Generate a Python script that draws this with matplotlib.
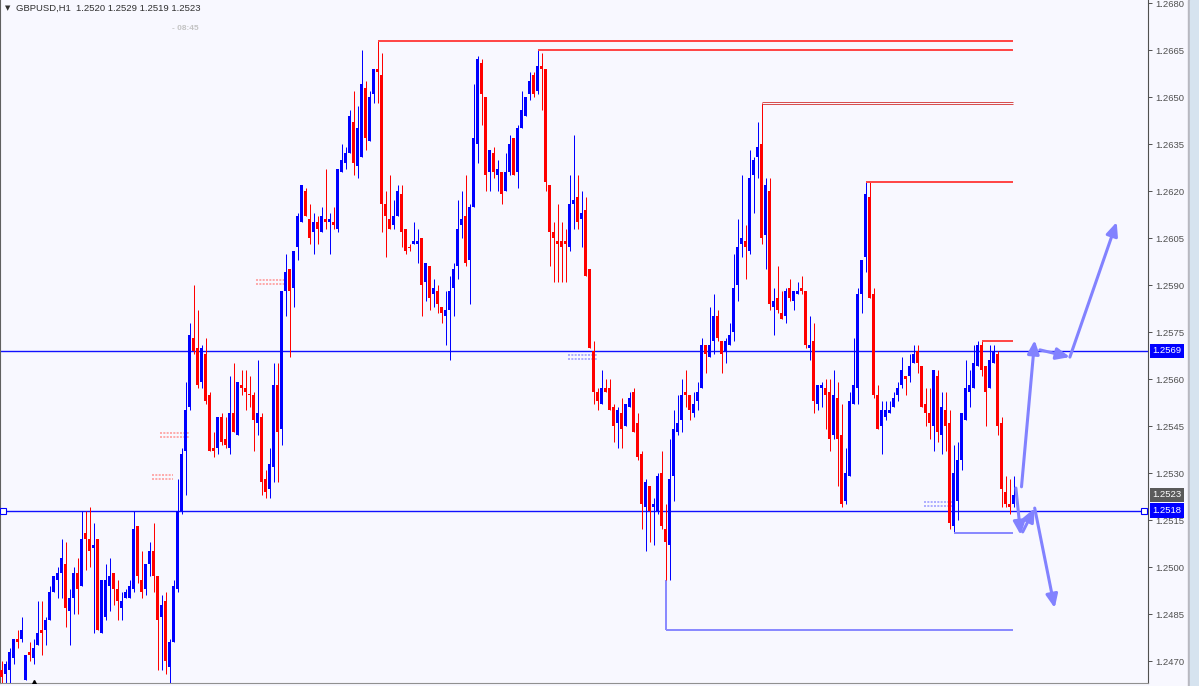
import numpy as np
import matplotlib
matplotlib.use('Agg')
import matplotlib.pyplot as plt
from matplotlib.ticker import FormatStrFormatter
from matplotlib.transforms import blended_transform_factory
from matplotlib.patches import Rectangle

plt.rcParams['font.family'] = ['Liberation Sans', 'DejaVu Sans']

# GBPUSD H1 candles, oldest first
opens = [
    1.2467, 1.2466, 1.2467, 1.2471, 1.2477, 1.2477, 1.2464, 1.2473, 1.2471, 1.2475,
    1.2480, 1.2480, 1.2483, 1.2492, 1.2496, 1.2498, 1.2501, 1.2486, 1.2490, 1.2498,
    1.2494, 1.2511, 1.2509, 1.2506, 1.2509, 1.2479, 1.2484, 1.2494, 1.2498, 1.2493,
    1.2487, 1.2490, 1.2490, 1.2493, 1.2513, 1.2496, 1.2493, 1.2501, 1.2505, 1.2497,
    1.2484, 1.2489, 1.2468, 1.2476, 1.2493, 1.2518, 1.2537, 1.2551, 1.2573, 1.2570,
    1.2559, 1.2568, 1.2555, 1.2538, 1.2538, 1.2548, 1.2541, 1.2538, 1.2549, 1.2542,
    1.2558, 1.2557, 1.2555, 1.2555, 1.2546, 1.2548, 1.2528, 1.2525, 1.2532, 1.2558,
    1.2544, 1.2588, 1.2595, 1.2589, 1.2602, 1.2610, 1.2620, 1.2611, 1.2607, 1.2610,
    1.2607, 1.2611, 1.2610, 1.2610, 1.2608, 1.2626, 1.2629, 1.2632, 1.2642, 1.2628,
    1.2631, 1.2653, 1.2636, 1.2651, 1.2659, 1.2657, 1.2616, 1.2611, 1.2609, 1.2612,
    1.2619, 1.2608, 1.2602, 1.2603, 1.2603, 1.2605, 1.2591, 1.2596, 1.2587, 1.2588,
    1.2583, 1.2580, 1.2582, 1.2589, 1.2596, 1.2609, 1.2612, 1.2598, 1.2615, 1.2635,
    1.2661, 1.2650, 1.2626, 1.2632, 1.2625, 1.2626, 1.2620, 1.2626, 1.2637, 1.2626,
    1.2640, 1.2644, 1.2651, 1.2657, 1.2652, 1.2660, 1.2659, 1.2622, 1.2607, 1.2604,
    1.2604, 1.2604, 1.2602, 1.2616, 1.2618, 1.2611, 1.2614, 1.2595, 1.2569, 1.2556,
    1.2552, 1.2557, 1.2557, 1.2551, 1.2546, 1.2549, 1.2545, 1.2551, 1.2556, 1.2546,
    1.2536, 1.2519, 1.2526, 1.2519, 1.2518, 1.2530, 1.2512, 1.2507, 1.2529, 1.2543,
    1.2547, 1.2556, 1.2555, 1.2549, 1.2553, 1.2557, 1.2571, 1.2567, 1.2572, 1.2580,
    1.2572, 1.2569, 1.2571, 1.2575, 1.2590, 1.2603, 1.2604, 1.2601, 1.2625, 1.2631,
    1.2635, 1.2606, 1.2620, 1.2583, 1.2586, 1.2581, 1.2580, 1.2589, 1.2585, 1.2587,
    1.2589, 1.2588, 1.2570, 1.2572, 1.2552, 1.2557, 1.2557, 1.2556, 1.2542, 1.2554,
    1.2542, 1.2521, 1.2529, 1.2552, 1.2557, 1.2587, 1.2599, 1.2618, 1.2587, 1.2555,
    1.2545, 1.2548, 1.2549, 1.2551, 1.2555, 1.2558, 1.2561, 1.2561, 1.2565, 1.2569,
    1.2564, 1.2552, 1.2549, 1.2545, 1.2561, 1.2542, 1.2550, 1.2546, 1.2513, 1.2521,
    1.2534, 1.2547, 1.2556, 1.2557, 1.2564, 1.2571, 1.2564, 1.2557, 1.2565, 1.2568,
    1.2546, 1.2524, 1.2520, 1.2520,
]
highs = [
    1.2470, 1.2470, 1.2474, 1.2477, 1.2480, 1.2484, 1.2472, 1.2476, 1.2477, 1.2489,
    1.2489, 1.2484, 1.2494, 1.2497, 1.2500, 1.2509, 1.2508, 1.2493, 1.2500, 1.2503,
    1.2518, 1.2518, 1.2519, 1.2514, 1.2509, 1.2496, 1.2501, 1.2503, 1.2498, 1.2496,
    1.2492, 1.2493, 1.2496, 1.2518, 1.2513, 1.2505, 1.2501, 1.2508, 1.2514, 1.2497,
    1.2491, 1.2492, 1.2477, 1.2496, 1.2528, 1.2538, 1.2559, 1.2578, 1.2590, 1.2582,
    1.2571, 1.2573, 1.2556, 1.2543, 1.2548, 1.2549, 1.2548, 1.2561, 1.2565, 1.2559,
    1.2563, 1.2563, 1.2561, 1.2556, 1.2566, 1.2549, 1.2531, 1.2538, 1.2565, 1.2565,
    1.2588, 1.2600, 1.2595, 1.2601, 1.2613, 1.2622, 1.2621, 1.2616, 1.2613, 1.2612,
    1.2615, 1.2627, 1.2613, 1.2615, 1.2627, 1.2635, 1.2634, 1.2646, 1.2652, 1.2647,
    1.2665, 1.2655, 1.2652, 1.2659, 1.2668, 1.2664, 1.2620, 1.2625, 1.2617, 1.2622,
    1.2622, 1.2608, 1.2603, 1.2610, 1.2608, 1.2605, 1.2597, 1.2596, 1.2592, 1.2590,
    1.2583, 1.2588, 1.2593, 1.2597, 1.2617, 1.2620, 1.2625, 1.2616, 1.2654, 1.2663,
    1.2662, 1.2650, 1.2633, 1.2634, 1.2630, 1.2626, 1.2632, 1.2638, 1.2637, 1.2641,
    1.2652, 1.2650, 1.2658, 1.2658, 1.2665, 1.2664, 1.2659, 1.2622, 1.2610, 1.2616,
    1.2610, 1.2608, 1.2625, 1.2638, 1.2625, 1.2620, 1.2618, 1.2595, 1.2572, 1.2557,
    1.2563, 1.2560, 1.2560, 1.2552, 1.2551, 1.2554, 1.2552, 1.2556, 1.2557, 1.2549,
    1.2537, 1.2528, 1.2526, 1.2522, 1.2530, 1.2537, 1.2520, 1.2541, 1.2550, 1.2555,
    1.2560, 1.2563, 1.2555, 1.2556, 1.2559, 1.2573, 1.2571, 1.2583, 1.2587, 1.2582,
    1.2572, 1.2573, 1.2578, 1.2600, 1.2611, 1.2625, 1.2609, 1.2633, 1.2631, 1.2642,
    1.2648, 1.2624, 1.2624, 1.2589, 1.2596, 1.2588, 1.2589, 1.2592, 1.2588, 1.2591,
    1.2593, 1.2588, 1.2580, 1.2578, 1.2558, 1.2559, 1.2560, 1.2560, 1.2563, 1.2559,
    1.2552, 1.2538, 1.2556, 1.2573, 1.2589, 1.2598, 1.2623, 1.2623, 1.2589, 1.2558,
    1.2553, 1.2553, 1.2553, 1.2556, 1.2559, 1.2567, 1.2561, 1.2568, 1.2571, 1.2571,
    1.2564, 1.2557, 1.2557, 1.2563, 1.2563, 1.2556, 1.2556, 1.2550, 1.2539, 1.2540,
    1.2549, 1.2566, 1.2563, 1.2571, 1.2572, 1.2572, 1.2564, 1.2571, 1.2571, 1.2569,
    1.2548, 1.2529, 1.2528, 1.2529,
]
lows = [
    1.2463, 1.2463, 1.2462, 1.2469, 1.2474, 1.2476, 1.2464, 1.2470, 1.2469, 1.2475,
    1.2472, 1.2475, 1.2483, 1.2492, 1.2490, 1.2490, 1.2481, 1.2475, 1.2485, 1.2485,
    1.2494, 1.2499, 1.2500, 1.2479, 1.2480, 1.2479, 1.2483, 1.2486, 1.2488, 1.2483,
    1.2483, 1.2490, 1.2490, 1.2492, 1.2495, 1.2490, 1.2491, 1.2497, 1.2492, 1.2467,
    1.2467, 1.2466, 1.2461, 1.2476, 1.2492, 1.2517, 1.2523, 1.2550, 1.2568, 1.2557,
    1.2557, 1.2552, 1.2537, 1.2535, 1.2536, 1.2539, 1.2538, 1.2536, 1.2543, 1.2542,
    1.2555, 1.2550, 1.2551, 1.2537, 1.2542, 1.2523, 1.2522, 1.2522, 1.2527, 1.2527,
    1.2539, 1.2580, 1.2567, 1.2583, 1.2598, 1.2610, 1.2612, 1.2603, 1.2600, 1.2603,
    1.2607, 1.2608, 1.2600, 1.2608, 1.2607, 1.2626, 1.2627, 1.2632, 1.2625, 1.2624,
    1.2631, 1.2633, 1.2636, 1.2648, 1.2648, 1.2607, 1.2599, 1.2608, 1.2608, 1.2612,
    1.2602, 1.2600, 1.2601, 1.2603, 1.2597, 1.2580, 1.2585, 1.2582, 1.2583, 1.2581,
    1.2578, 1.2571, 1.2566, 1.2580, 1.2592, 1.2605, 1.2596, 1.2584, 1.2615, 1.2629,
    1.2641, 1.2620, 1.2620, 1.2624, 1.2620, 1.2616, 1.2620, 1.2625, 1.2625, 1.2621,
    1.2640, 1.2644, 1.2649, 1.2650, 1.2651, 1.2646, 1.2620, 1.2596, 1.2591, 1.2591,
    1.2591, 1.2591, 1.2601, 1.2608, 1.2608, 1.2602, 1.2593, 1.2570, 1.2552, 1.2550,
    1.2552, 1.2556, 1.2550, 1.2540, 1.2538, 1.2538, 1.2545, 1.2551, 1.2543, 1.2534,
    1.2512, 1.2505, 1.2508, 1.2507, 1.2517, 1.2512, 1.2496, 1.2496, 1.2521, 1.2542,
    1.2543, 1.2551, 1.2547, 1.2548, 1.2550, 1.2557, 1.2562, 1.2567, 1.2568, 1.2572,
    1.2562, 1.2565, 1.2571, 1.2572, 1.2585, 1.2599, 1.2592, 1.2600, 1.2613, 1.2624,
    1.2603, 1.2595, 1.2582, 1.2574, 1.2581, 1.2579, 1.2578, 1.2585, 1.2582, 1.2587,
    1.2587, 1.2570, 1.2566, 1.2549, 1.2550, 1.2551, 1.2544, 1.2537, 1.2541, 1.2526,
    1.2519, 1.2520, 1.2529, 1.2552, 1.2552, 1.2581, 1.2594, 1.2586, 1.2554, 1.2544,
    1.2536, 1.2547, 1.2549, 1.2551, 1.2553, 1.2557, 1.2555, 1.2559, 1.2565, 1.2562,
    1.2551, 1.2545, 1.2541, 1.2537, 1.2540, 1.2536, 1.2537, 1.2512, 1.2511, 1.2515,
    1.2531, 1.2547, 1.2551, 1.2557, 1.2564, 1.2561, 1.2545, 1.2557, 1.2565, 1.2542,
    1.2519, 1.2519, 1.2517, 1.2519,
]
closes = [
    1.2465, 1.2469, 1.2473, 1.2477, 1.2476, 1.2480, 1.2472, 1.2472, 1.2474, 1.2479,
    1.2479, 1.2483, 1.2492, 1.2497, 1.2498, 1.2503, 1.2487, 1.2490, 1.2498, 1.2493,
    1.2509, 1.2509, 1.2505, 1.2507, 1.2480, 1.2496, 1.2496, 1.2497, 1.2493, 1.2489,
    1.2489, 1.2492, 1.2494, 1.2512, 1.2497, 1.2492, 1.2501, 1.2505, 1.2497, 1.2483,
    1.2488, 1.2470, 1.2476, 1.2494, 1.2518, 1.2536, 1.2550, 1.2574, 1.2569, 1.2558,
    1.2570, 1.2553, 1.2537, 1.2537, 1.2548, 1.2540, 1.2539, 1.2549, 1.2543, 1.2559,
    1.2557, 1.2556, 1.2555, 1.2547, 1.2549, 1.2527, 1.2524, 1.2533, 1.2558, 1.2543,
    1.2588, 1.2594, 1.2588, 1.2601, 1.2612, 1.2622, 1.2612, 1.2605, 1.2610, 1.2608,
    1.2612, 1.2610, 1.2611, 1.2609, 1.2627, 1.2630, 1.2632, 1.2644, 1.2629, 1.2640,
    1.2654, 1.2637, 1.2650, 1.2659, 1.2658, 1.2616, 1.2612, 1.2608, 1.2612, 1.2620,
    1.2607, 1.2601, 1.2602, 1.2604, 1.2604, 1.2590, 1.2597, 1.2586, 1.2589, 1.2584,
    1.2581, 1.2582, 1.2588, 1.2595, 1.2608, 1.2611, 1.2597, 1.2615, 1.2637, 1.2662,
    1.2651, 1.2625, 1.2633, 1.2626, 1.2627, 1.2619, 1.2626, 1.2635, 1.2625, 1.2640,
    1.2646, 1.2650, 1.2655, 1.2651, 1.2660, 1.2659, 1.2623, 1.2607, 1.2605, 1.2603,
    1.2602, 1.2603, 1.2616, 1.2617, 1.2610, 1.2613, 1.2593, 1.2570, 1.2556, 1.2553,
    1.2557, 1.2556, 1.2550, 1.2545, 1.2550, 1.2544, 1.2552, 1.2554, 1.2543, 1.2535,
    1.2520, 1.2527, 1.2518, 1.2520, 1.2529, 1.2513, 1.2508, 1.2528, 1.2544, 1.2546,
    1.2555, 1.2555, 1.2550, 1.2552, 1.2556, 1.2571, 1.2568, 1.2571, 1.2580, 1.2573,
    1.2568, 1.2572, 1.2574, 1.2589, 1.2602, 1.2605, 1.2602, 1.2624, 1.2630, 1.2634,
    1.2605, 1.2622, 1.2584, 1.2585, 1.2582, 1.2579, 1.2588, 1.2586, 1.2588, 1.2588,
    1.2588, 1.2571, 1.2571, 1.2553, 1.2558, 1.2558, 1.2555, 1.2541, 1.2555, 1.2541,
    1.2520, 1.2530, 1.2553, 1.2558, 1.2587, 1.2598, 1.2619, 1.2586, 1.2555, 1.2544,
    1.2550, 1.2550, 1.2550, 1.2554, 1.2557, 1.2563, 1.2560, 1.2564, 1.2568, 1.2565,
    1.2551, 1.2549, 1.2546, 1.2563, 1.2543, 1.2551, 1.2545, 1.2514, 1.2530, 1.2534,
    1.2549, 1.2557, 1.2558, 1.2565, 1.2571, 1.2563, 1.2556, 1.2566, 1.2569, 1.2545,
    1.2525, 1.2520, 1.2519, 1.2523,
]

# horizontal levels
blue_levels = [1.2569, 1.2518]
red_levels = [1.2668, 1.2665, 1.2623, 1.2572]
red_level_start = [94, 134, 216, 245]
thin_level = 1.2648
thin_level_start = 190
support_levels = [1.2480, 1.2511]
support_start = [166, 238]
level_end = 252.9

# drawn forecast arrows: (start index, start price, end index, end price)
arrows = [
    (255.0, 1.25256, 258.3, 1.25724),
    (259.6, 1.25693, 267.1, 1.25670),
    (267.1, 1.25670, 278.8, 1.26101),
    (253.6, 1.25252, 254.8, 1.25102),
    (255.3, 1.25112, 258.3, 1.25188),
    (258.3, 1.25188, 263.3, 1.24869),
]

# small trade-history marks (start index, end index, price, kind)
marks = [
    (39.6, 46.8, 1.25428, 'sell'),
    (37.5, 42.8, 1.25294, 'sell'),
    (63.7, 70.8, 1.25916, 'sell'),
    (141.6, 148.8, 1.25677, 'buy'),
    (230.6, 237.8, 1.25208, 'buy'),
]

y_ticks = np.arange(1.2470, 1.26805, 0.0015)
header = "GBPUSD,H1  1.2520 1.2529 1.2519 1.2523"
bid_price = 1.2523

bg = '#f8f8ff'
bull = '#0000ff'
bear = '#ff0000'
px = 72 / 100  # one pixel in points

fig = plt.figure(figsize=(11.99, 6.86), dpi=100)
fig.patch.set_facecolor(bg)
ax = fig.add_axes([0, 3 / 686, 1148 / 1199, 683 / 686])
ax.set_facecolor(bg)

o = np.array(opens)
h = np.array(highs)
l = np.array(lows)
c = np.array(closes)
idx = np.arange(len(o))
cols = np.where(c > o, bull, bear)

# wicks 1px, bodies 3px wide (pixel aligned)
ax.vlines(idx, l, h, colors=cols, lw=px, zorder=3)
body = np.abs(c - o)
body_h = np.maximum(body, 0.000032)
body_lo = np.minimum(o, c) - (body_h - body) / 2
ax.bar(idx, body_h, bottom=body_lo, width=0.75, color=cols, linewidth=0, zorder=3)

# levels
for p in blue_levels:
    ax.axhline(p, color='#1010ff', lw=1.0, zorder=2)
ax.plot([0.4, 285.6], [blue_levels[1], blue_levels[1]], ls='none', marker='s', ms=4,
        mfc='white', mec='#0000ff', mew=0.8, zorder=4, clip_on=False)
ax.hlines(red_levels, red_level_start, level_end, color='#ff4848', lw=2 * px, zorder=4)
ax.hlines([thin_level + 0.00003, thin_level - 0.00003], thin_level_start, level_end,
          color='#d85050', lw=px, zorder=4)
ax.hlines(support_levels, support_start, level_end, color='#8a8aff', lw=2 * px, zorder=4)
ax.vlines(support_start[0], support_levels[0], lows[support_start[0]], color='#8a8aff',
          lw=2 * px, zorder=2)

for s, e, p, kind in marks:
    col = '#ff9c9c' if kind == 'sell' else '#a0a0ff'
    for dp in (0.0, -0.00014):
        ax.plot([s, e], [p + dp, p + dp], ls=(0, (1.2, 0.8)), lw=1.2, color=col, zorder=2)

for x0, p0, x1, p1 in arrows:
    ax.annotate('', xy=(x1, p1), xytext=(x0, p0),
                arrowprops=dict(arrowstyle='-|>,head_length=0.8,head_width=0.35',
                                color='#8282ff', lw=2.2, shrinkA=0, shrinkB=0,
                                mutation_scale=10), zorder=5)

ax.plot([8], [1.24622], marker='^', ms=7, color='black', zorder=5)

# candle i sits at pixel 1.5 + 4 i
ax.set_xlim(-0.375, 286.625)
ax.set_ylim(1.246298, 1.268096)
ax.set_xticks([])
ax.yaxis.tick_right()
ax.set_yticks(y_ticks)
ax.yaxis.set_major_formatter(FormatStrFormatter('%.4f'))
ax.tick_params(axis='y', direction='out', length=3, width=0.7, colors='#505050',
               labelsize=6.8, pad=2.5)
ax.spines['top'].set_visible(False)
ax.spines['left'].set_color('#606060')
ax.spines['right'].set_color('#505050')
ax.spines['bottom'].set_color('#909090')

tr = blended_transform_factory(ax.transAxes, ax.transData)
for p, fc in [(blue_levels[0], '#0000ff'), (bid_price, '#5a5a5a'), (blue_levels[1], '#0000ff')]:
    ax.text(1.0038, p, '%.4f' % p, transform=tr, ha='left', va='center', color='white',
            fontsize=6.8, clip_on=False, zorder=6,
            bbox=dict(boxstyle='square,pad=0.28', fc=fc, ec='none'))

# right strip
fig.patches.append(Rectangle((1188 / 1199, 0), 2 / 1199, 1, transform=fig.transFigure,
                             color='#b8b8c0', zorder=0))
fig.patches.append(Rectangle((1190 / 1199, 0), 9 / 1199, 1, transform=fig.transFigure,
                             color='#d6e3ef', zorder=0))

fig.text(5 / 1199, 1 - 8.5 / 686, '\u25bc', fontsize=5, color='#303030', va='center',
         family=['DejaVu Sans'])
fig.text(16 / 1199, 1 - 8.5 / 686, header, fontsize=6.8, color='#303030', va='center')
fig.text(172 / 1199, 1 - 28.5 / 686, '- 08:45', fontsize=6, color='#c4c4c4',
         va='center', fontweight='bold')

fig.savefig('out.png', dpi=100, facecolor=bg)
